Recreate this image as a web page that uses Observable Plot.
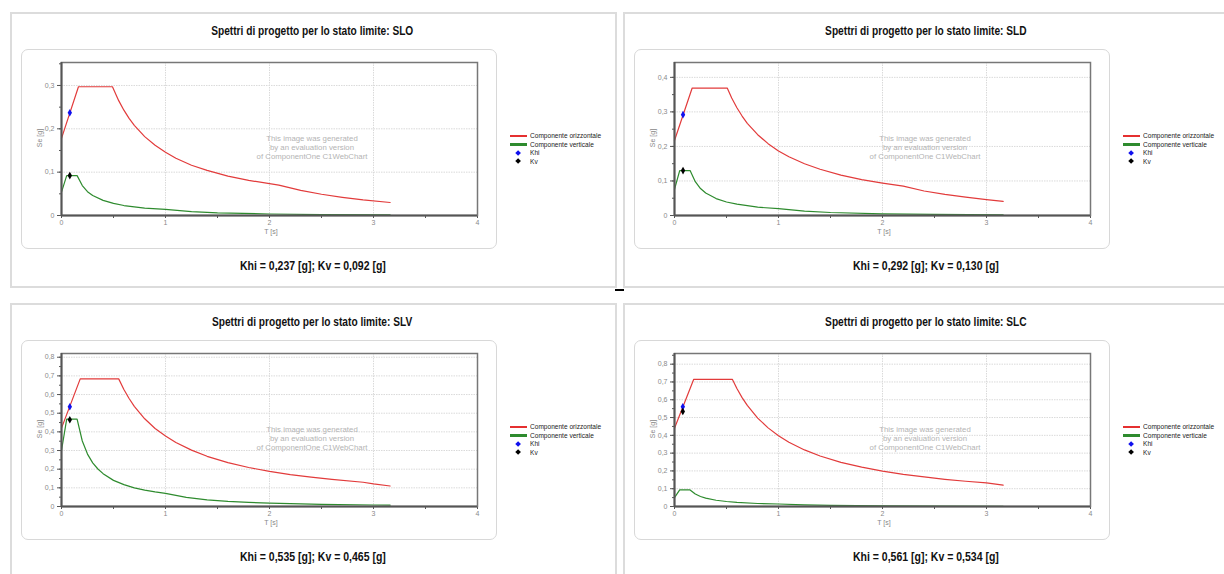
<!DOCTYPE html>
<html>
<head>
<meta charset="utf-8">
<script src="https://cdn.jsdelivr.net/npm/d3@7"></script>
<script src="https://cdn.jsdelivr.net/npm/@observablehq/plot@0.6"></script>
<style>
  html, body { margin: 0; padding: 0; background: #fff; }
  #root { position: relative; width: 1224px; height: 574px; overflow: hidden; background: #fff; }
  .panel { position: absolute; width: 603px; height: 272px; border: 2px solid #dcdcdc; box-sizing: content-box; }
  .inner { position: absolute; border: 1.5px solid #d8d8d8; border-radius: 7px; }
  .title { position: absolute; left: 0; width: 605px; text-align: center; font-family: "Liberation Sans", Arial, sans-serif; font-weight: bold; font-size: 12.4px; color: #111; line-height: 14px; }
  .khi { position: absolute; left: 0; width: 605px; text-align: center; font-family: "Liberation Sans", Arial, sans-serif; font-weight: bold; font-size: 12.8px; color: #111; line-height: 15px; }
  .narrow { display: inline-block; transform: scaleX(0.82); transform-origin: 50% 50%; white-space: nowrap; }
  .wm { position: absolute; width: 200px; text-align: center; font-family: "Liberation Sans", sans-serif; font-size: 7.8px; color: #b4b4b4; line-height: 9px; }
  .leg { position: absolute; font-family: "Liberation Sans", sans-serif; font-size: 8px; color: #222; line-height: 8px; white-space: nowrap; transform: scaleX(0.82); transform-origin: 0 50%; }
  .axlab { position: absolute; font-family: "Liberation Sans", sans-serif; font-size: 7px; color: #888; white-space: nowrap; line-height: 8px; }
  .plot { position: absolute; left: 0; top: 0; }
</style>
</head>
<body>
<div id="root"></div>
<script>
// ---------------- data ----------------
const STATES = ["SLO", "SLD", "SLV", "SLC"];
const KHI = [0.237, 0.292, 0.535, 0.561];
const KV = [0.092, 0.130, 0.465, 0.534];
const K_PERIOD = [0.08, 0.082, 0.08, 0.08];
const Y_MAX = [0.353, 0.443, 0.82, 0.86];
const Y_TICKS = [
  [0, 0.1, 0.2, 0.3],
  [0, 0.1, 0.2, 0.3, 0.4],
  [0, 0.1, 0.2, 0.3, 0.4, 0.5, 0.6, 0.7, 0.8],
  [0, 0.1, 0.2, 0.3, 0.4, 0.5, 0.6, 0.7, 0.8]
];
const X_TICKS = [0, 1, 2, 3, 4];
const X_GRID = [1, 2, 3];

// Componente orizzontale
const T_SLO_H = [0, 0.163, 0.49, 0.55, 0.6, 0.65, 0.7, 0.8, 0.9, 1.0, 1.1, 1.25, 1.4, 1.6, 1.8, 2.09, 2.3, 2.5, 2.7, 2.9, 3.16];
const SE_SLO_H = [0.178, 0.297, 0.297, 0.265, 0.243, 0.224, 0.208, 0.182, 0.162, 0.146, 0.132, 0.116, 0.104, 0.091, 0.081, 0.070, 0.058, 0.049, 0.042, 0.036, 0.030];
const T_SLD_H = [0, 0.17, 0.507, 0.55, 0.6, 0.65, 0.7, 0.8, 0.9, 1.0, 1.1, 1.25, 1.4, 1.6, 1.8, 2.0, 2.2, 2.4, 2.6, 2.8, 3.0, 3.16];
const SE_SLD_H = [0.217, 0.369, 0.369, 0.340, 0.312, 0.288, 0.267, 0.234, 0.208, 0.187, 0.170, 0.150, 0.134, 0.117, 0.104, 0.094, 0.085, 0.071, 0.061, 0.053, 0.046, 0.041];
const T_SLV_H = [0, 0.18, 0.55, 0.6, 0.65, 0.7, 0.8, 0.9, 1.0, 1.1, 1.25, 1.4, 1.6, 1.8, 2.0, 2.2, 2.4, 2.6, 2.9, 3.0, 3.16];
const SE_SLV_H = [0.42, 0.684, 0.684, 0.627, 0.579, 0.537, 0.470, 0.418, 0.378, 0.343, 0.302, 0.269, 0.235, 0.209, 0.188, 0.171, 0.157, 0.145, 0.130, 0.121, 0.110];
const T_SLC_H = [0, 0.185, 0.556, 0.6, 0.65, 0.7, 0.8, 0.9, 1.0, 1.1, 1.25, 1.4, 1.6, 1.8, 2.0, 2.2, 2.4, 2.6, 2.8, 3.0, 3.16];
const SE_SLC_H = [0.44, 0.715, 0.715, 0.663, 0.612, 0.568, 0.497, 0.442, 0.398, 0.361, 0.318, 0.284, 0.248, 0.221, 0.199, 0.181, 0.166, 0.153, 0.142, 0.133, 0.120];

// Componente verticale
const T_SLO_V = [0, 0.05, 0.15, 0.2, 0.25, 0.3, 0.4, 0.5, 0.6, 0.8, 1.0, 1.25, 1.5, 2.0, 2.5, 3.16];
const SE_SLO_V = [0.054, 0.092, 0.092, 0.069, 0.055, 0.046, 0.035, 0.028, 0.023, 0.017, 0.014, 0.009, 0.006, 0.0035, 0.0022, 0.0014];
const T_SLD_V = [0, 0.05, 0.15, 0.2, 0.25, 0.3, 0.4, 0.5, 0.6, 0.8, 1.0, 1.25, 1.5, 2.0, 2.5, 3.16];
const SE_SLD_V = [0.076, 0.130, 0.130, 0.098, 0.078, 0.065, 0.049, 0.039, 0.033, 0.024, 0.020, 0.0125, 0.0087, 0.0049, 0.0031, 0.002];
const T_SLV_V = [0, 0.05, 0.15, 0.2, 0.25, 0.3, 0.35, 0.4, 0.5, 0.6, 0.7, 0.8, 0.9, 1.0, 1.2, 1.4, 1.6, 1.8, 2.0, 2.5, 3.0, 3.16];
const SE_SLV_V = [0.30, 0.468, 0.468, 0.351, 0.281, 0.234, 0.201, 0.176, 0.140, 0.117, 0.100, 0.088, 0.078, 0.070, 0.049, 0.036, 0.027, 0.022, 0.018, 0.011, 0.008, 0.007];
const T_SLC_V = [0, 0.05, 0.15, 0.2, 0.25, 0.3, 0.4, 0.5, 0.6, 0.8, 1.0, 1.25, 1.5, 2.0, 2.5, 3.16];
const SE_SLC_V = [0.05, 0.093, 0.093, 0.070, 0.056, 0.047, 0.035, 0.028, 0.023, 0.017, 0.014, 0.009, 0.006, 0.0035, 0.0022, 0.0014];

const H_SERIES = [[T_SLO_H, SE_SLO_H], [T_SLD_H, SE_SLD_H], [T_SLV_H, SE_SLV_H], [T_SLC_H, SE_SLC_H]];
const V_SERIES = [[T_SLO_V, SE_SLO_V], [T_SLD_V, SE_SLD_V], [T_SLV_V, SE_SLV_V], [T_SLC_V, SE_SLC_V]];

const TITLE_PREFIX = "Spettri di progetto per lo stato limite: ";
const LEGEND = ["Componente orizzontale", "Componente verticale", "Khi", "Kv"];
const WATERMARK = ["This image was generated", "by an evaluation version", "of ComponentOne C1WebChart"];

// ---------------- layout ----------------
const ORIGINS = [[10, 12], [623, 12], [10, 303], [623, 303]];
const RED = "#e23b3b", GREEN = "#2e8b2e";
const comma = (v, d) => v.toFixed(d).replace(".", ",");
const yFmt = v => v === 0 ? "0" : comma(v, 1);

const root = document.getElementById("root");

function el(cls, css, html) {
  const d = document.createElement("div");
  if (cls) d.className = cls;
  Object.assign(d.style, css);
  if (html !== undefined) d.innerHTML = html;
  return d;
}

STATES.forEach((st, i) => {
  const [ox, oy] = ORIGINS[i];
  const p = el("panel", {left: ox + "px", top: oy + "px"});
  root.appendChild(p);
  p.appendChild(el("inner", {left: "9px", top: "35px", width: "474px", height: "198px"}));
  p.appendChild(el("title", {left: "-2px", top: "10px"}, `<span class="narrow">${TITLE_PREFIX + st}</span>`));
  p.appendChild(el("khi", {left: "-2px", top: "244px"},
    `<span class="narrow">Khi = ${comma(KHI[i], 3)} [g]; Kv = ${comma(KV[i], 3)} [g]</span>`));

  const hData = H_SERIES[i][0].map((t, j) => ({T: t, Se: H_SERIES[i][1][j]}));
  const vData = V_SERIES[i][0].map((t, j) => ({T: t, Se: V_SERIES[i][1][j]}));
  const ymax = Y_MAX[i];
  const yMinor = d3.range(0, ymax + 1e-9, 0.05).map(v => +v.toFixed(2));

  const chart = Plot.plot({
    width: 480, height: 230,
    marginLeft: 49, marginRight: 15, marginTop: 48, marginBottom: 29,
    x: {domain: [0, 4]},
    y: {domain: [0, ymax]},
    style: {background: "transparent", fontFamily: "'Liberation Sans', sans-serif", color: "#666", overflow: "visible"},
    marks: [
      Plot.gridX(X_GRID, {stroke: "#dadada", strokeOpacity: 1, strokeDasharray: "1.5,1"}),
      Plot.gridY(Y_TICKS[i].filter(v => v > 0), {stroke: "#dadada", strokeOpacity: 1, strokeDasharray: "1.5,1"}),
      Plot.axisX(d3.range(0, 4.01, 0.5), {tickSize: 3, tickPadding: 2, fontSize: 7, fill: "#8a8a8a", stroke: "#555",
        tickFormat: d => X_TICKS.includes(d) ? String(d) : "", label: null}),
      Plot.axisY(yMinor, {tickSize: 2, tickFormat: () => "", label: null, stroke: "#555"}),
      Plot.axisY(Y_TICKS[i], {tickSize: 4, tickPadding: 3, fontSize: 7, fill: "#8a8a8a", stroke: "#555", tickFormat: yFmt, label: null}),
      Plot.line(vData, {x: "T", y: "Se", stroke: GREEN, strokeWidth: 1.2}),
      Plot.line(hData, {x: "T", y: "Se", stroke: RED, strokeWidth: 1.2}),
      Plot.dot([{T: K_PERIOD[i], K: KHI[i]}], {x: "T", y: "K", symbol: "diamond", r: 2.3, fill: "#1010ee", stroke: "none"}),
      Plot.dot([{T: K_PERIOD[i], K: KV[i]}], {x: "T", y: "K", symbol: "diamond", r: 2.3, fill: "#000", stroke: "none"}),
      Plot.frame({stroke: "#777", strokeWidth: 1.5}),
      Plot.ruleX([0], {stroke: "#555", strokeWidth: 2}),
      Plot.ruleY([0], {stroke: "#555", strokeWidth: 2})
    ]
  });
  chart.classList.add("plot");
  p.appendChild(chart);

  // axis titles
  p.appendChild(el("axlab", {left: "249px", top: "214px", width: "20px", textAlign: "center"}, "T [s]"));
  p.appendChild(el("axlab", {left: "8px", top: "120px", width: "40px", textAlign: "center", transform: "rotate(-90deg)"}, "Se [g]"));

  // watermark
  p.appendChild(el("wm", {left: "200px", top: "120px"}, WATERMARK.join("<br>")));

  // legend
  const legTop = [118, 126.5, 135, 143.5];
  LEGEND.forEach((name, k) => {
    const y = legTop[k];
    if (k < 2) {
      p.appendChild(el("", {position: "absolute", left: "498px", top: (y + 2.5) + "px", width: "17px", height: "2.6px", background: k === 0 ? "#e53030" : GREEN}));
    } else {
      p.appendChild(el("", {position: "absolute", left: "504px", top: (y + 1.5) + "px", width: "4.2px", height: "4.2px", transform: "rotate(45deg)", background: k === 2 ? "#1010ee" : "#000"}));
    }
    p.appendChild(el("leg", {left: "518px", top: y + "px"}, name));
  });
});

// small black mark between panels
root.appendChild(el("", {position: "absolute", left: "615px", top: "288.5px", width: "8.5px", height: "2px", background: "#000"}));
</script>
</body>
</html>
